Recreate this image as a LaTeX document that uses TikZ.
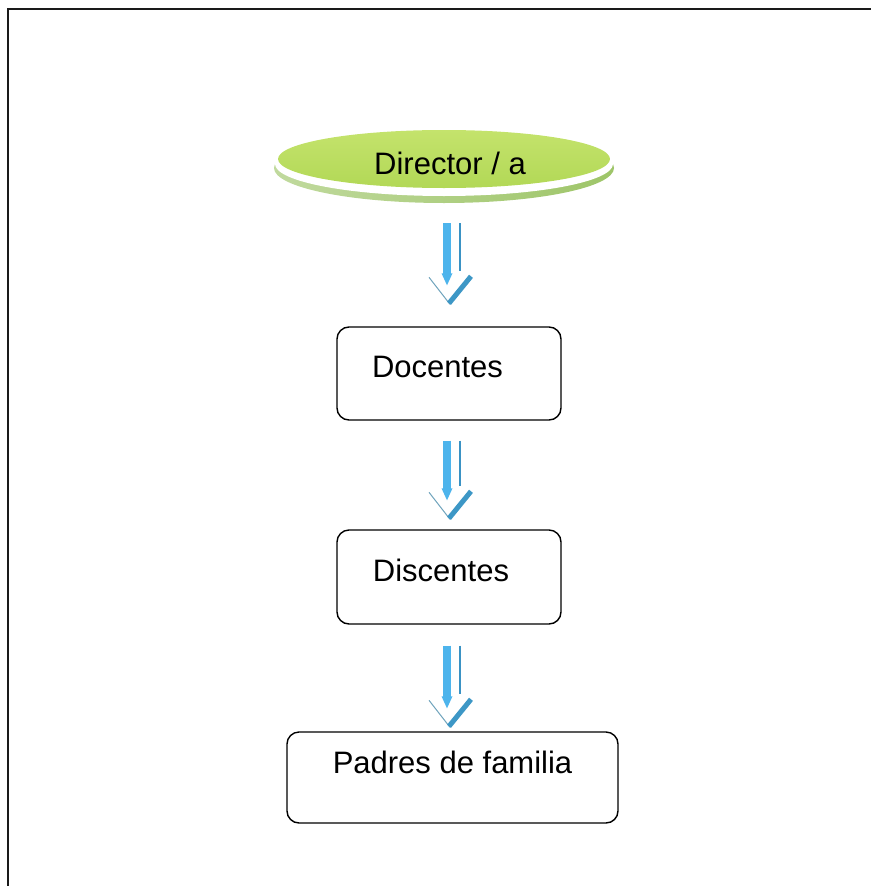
\documentclass[tikz,border=0pt]{standalone}
\usepackage{fontspec}
\setmainfont{Liberation Sans}
\usetikzlibrary{shapes.geometric,calc}
\definecolor{limetop}{HTML}{C4E36C}
\definecolor{limebot}{HTML}{B2D856}
\definecolor{limeshadow}{HTML}{8DBB4E}
\definecolor{abar}{HTML}{4DB4EC}
\definecolor{athin}{HTML}{3A92C4}
\definecolor{achev}{HTML}{3D97C6}
\definecolor{achevl}{HTML}{6FA3BC}
\definecolor{framec}{HTML}{1A1A1A}
\tikzset{
  framestyle/.style={draw=framec, line width=2.4pt},
  boxstyle/.style={draw=black, line width=1.4pt, rounded corners=12pt,
    font=\fontsize{31}{36}\selectfont, text height=22pt, inner sep=0pt},
  headstyle/.style={ellipse, top color=limetop, bottom color=limebot,
    minimum width=332pt, minimum height=58pt, inner sep=0pt,
    font=\fontsize{31}{36}\selectfont, text height=30pt, text depth=0pt},
  shadowstyle/.style={left color=limeshadow!55, middle color=limeshadow, right color=limeshadow!85},
  barstyle/.style={draw=abar, line width=8pt, line cap=butt},
  barhead/.style={fill=abar},
  thinstyle/.style={draw=athin, line width=1.6pt},
  chevleft/.style={draw=achevl, line width=1pt},
  chevright/.style={draw=achev, line width=5pt, line cap=butt},
}
\newcommand\dblarrow[2]{%
  \draw[barstyle] ($(#2|-#1)+(-3,0)$) -- ($(#2)+(-3,-30)$);
  \fill[barhead] ($(#2)+(-8.5,-31)$) -- ($(#2)+(2.5,-31)$) -- ($(#2)+(-3,-19)$) -- cycle;
  \draw[thinstyle] ($(#2|-#1)+(10,0)$) -- ($(#2)+(10,-33)$);
  \draw[chevleft] ($(#2)+(-21,-27)$) -- (#2);
  \draw[chevright] ($(#2)+(-1,-1)$) -- ($(#2)+(21,-28)$);
}
\begin{document}
\begin{tikzpicture}[x=1pt,y=-1pt]
\useasboundingbox (0,0) rectangle (870,886);
\draw[framestyle] (871,9) -- (8,9) -- (8,887);
% head disk with shadow
\shade[shadowstyle] (444,168) ellipse [x radius=170, y radius=35];
\fill[white] (444,164) ellipse [x radius=169, y radius=32];
\node[headstyle] (dir) at (444,159) {\hspace*{12pt}Director / a};
% boxes
\node[boxstyle, minimum width=224pt, minimum height=93pt, text depth=15pt] (doc) at (449,373.5) {Docentes\hspace*{23pt}};
\node[boxstyle, minimum width=224pt, minimum height=94pt, text depth=14pt] (dis) at (449,577) {Discentes\hspace*{16pt}};
\node[boxstyle, minimum width=331pt, minimum height=91pt, text depth=31pt] (pad) at (452.5,777.5) {Padres de familia};
% arrows
\coordinate (a1t) at ($(dir.south)+(6,35)$);
\coordinate (a1b) at ($(doc.north)+(1,-22)$);
\coordinate (a2t) at ($(doc.south)+(1,20)$);
\coordinate (a2b) at ($(dis.north)+(1,-10)$);
\coordinate (a3t) at ($(dis.south)+(1,21)$);
\coordinate (a3b) at ($(pad.north)+(-2.5,-4)$);
\dblarrow{a1t}{a1b}
\dblarrow{a2t}{a2b}
\dblarrow{a3t}{a3b}
\end{tikzpicture}
\end{document}
